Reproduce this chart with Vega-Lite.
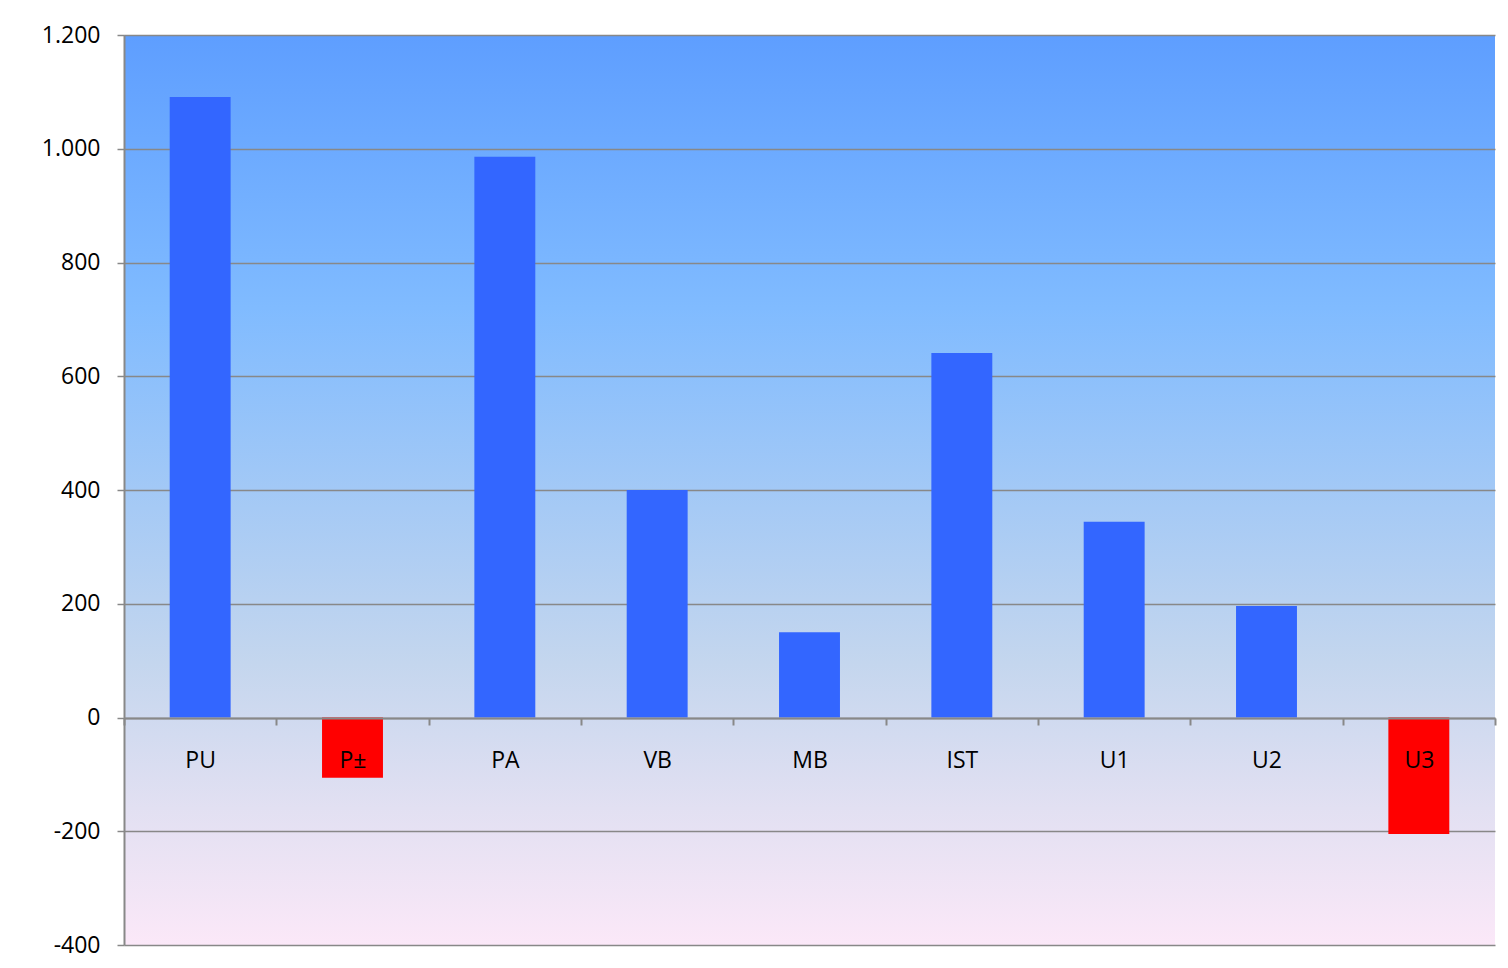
{
  "$schema": "https://vega.github.io/schema/vega-lite/v6.json",
  "width": 1371,
  "height": 910,
  "autosize": {"type": "none"},
  "padding": {"left": 124, "top": 35, "right": 13, "bottom": 23},
  "background": "white",
  "config": {
    "view": {
      "stroke": null,
      "fill": {"gradient": "linear", "x1": 0, "y1": 0, "x2": 0, "y2": 1,
        "stops": [
          {"offset": 0, "color": "#5e9eff"},
          {"offset": 0.3, "color": "#80bbff"},
          {"offset": 0.52, "color": "#a6caf5"},
          {"offset": 0.69, "color": "#c4d6ee"},
          {"offset": 0.85, "color": "#e2e0f2"},
          {"offset": 1, "color": "#fbe8f8"}
        ]}
    },
    "font": "Open Sans"
  },
  "data": {
    "values": [
      {"cat": "PU", "value": 1091},
      {"cat": "P±", "value": -106},
      {"cat": "PA", "value": 986},
      {"cat": "VB", "value": 400},
      {"cat": "MB", "value": 150},
      {"cat": "IST", "value": 641},
      {"cat": "U1", "value": 344},
      {"cat": "U2", "value": 196},
      {"cat": "U3", "value": -205}
    ]
  },
  "mark": {"type": "bar", "width": {"band": 0.4}},
  "encoding": {
    "x": {
      "field": "cat", "type": "nominal", "sort": null,
      "scale": {"paddingInner": 0, "paddingOuter": 0},
      "axis": {
        "title": null, "orient": "bottom", "offset": -227, "zindex": 1,
        "tickBand": "extent", "labelAngle": 0,
        "domainColor": "#888888", "domainWidth": 2,
        "tickColor": "#888888", "tickWidth": 2, "tickSize": 7,
        "labelFontSize": 23, "labelColor": "#000000", "labelPadding": 24,
        "grid": false
      }
    },
    "y": {
      "field": "value", "type": "quantitative",
      "scale": {"domain": [-400, 1200], "nice": false, "zero": false},
      "axis": {
        "title": null, "values": [-400, -200, 0, 200, 400, 600, 800, 1000, 1200],
        "labelExpr": "datum.value >= 1000 ? floor(datum.value/1000) + '.' + format(datum.value % 1000, '03d') : '' + datum.value",
        "grid": true, "gridColor": "#888888", "gridWidth": 1.5,
        "domainColor": "#888888", "domainWidth": 2,
        "tickColor": "#888888", "tickWidth": 1.5, "tickSize": 7,
        "labelFontSize": 23, "labelColor": "#000000", "labelPadding": 17
      }
    },
    "color": {
      "condition": {"test": "datum.value < 0", "value": "#ff0000"},
      "value": "#3366ff"
    }
  }
}
